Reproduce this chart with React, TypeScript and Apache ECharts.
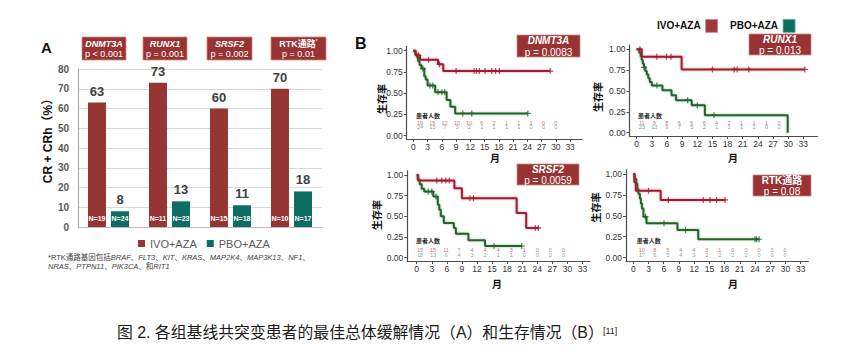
import React, { useEffect, useRef } from "react";
import * as echarts from "echarts";

// ---------- Panel A data ----------
const geneCategories = ["DNMT3A", "RUNX1", "SRSF2", "RTK通路*"];
const ivoCrRate = [63, 73, 60, 70];
const pboCrRate = [8, 13, 11, 18];
const ivoPatients = [19, 11, 15, 10];
const pboPatients = [24, 23, 18, 17];
const crPValues = ["p < 0.001", "p = 0.001", "p = 0.002", "p = 0.01"];

// ---------- Panel B data ----------
const kmTitles = ["DNMT3A", "RUNX1", "SRSF2", "RTK通路"];
const kmPValues = ["p = 0.0083", "p = 0.013", "p = 0.0059", "p = 0.08"];
const monthTicks = [0, 3, 6, 9, 12, 15, 18, 21, 24, 27, 30, 33];
const survivalTicks = [0, 0.25, 0.5, 0.75, 1];

// DNMT3A
const dnmt3aIvoCurve = [[0, 1], [0.5, 0.947], [1.4, 0.895], [5.2, 0.842], [6.3, 0.76], [28.8, 0.76]];
const dnmt3aIvoCensor = [[1.05, 0.947], [3.2, 0.895], [5.5, 0.842], [9.0, 0.76], [12.8, 0.76], [13.3, 0.76], [13.9, 0.76], [15.1, 0.76], [16.5, 0.76], [17.3, 0.76], [18.1, 0.76], [28.8, 0.76]];
const dnmt3aPboCurve = [[0, 1], [0.4, 0.958], [0.8, 0.917], [1.0, 0.875], [1.3, 0.833], [1.7, 0.79], [2.3, 0.7], [2.6, 0.66], [3.0, 0.59], [4.6, 0.51], [7.0, 0.42], [7.8, 0.34], [8.8, 0.26], [24.1, 0.26]];
const dnmt3aPboCensor = [[2.0, 0.79], [3.5, 0.59], [4.1, 0.59], [5.2, 0.51], [6.0, 0.51], [6.6, 0.51], [10.4, 0.26], [12.3, 0.26], [24.1, 0.26]];
const dnmt3aIvoAtRisk = [19, 15, 12, 10, 10, 6, 2, 1, 1, 1, 0, 0];
const dnmt3aPboAtRisk = [24, 13, 7, 3, 2, 1, 1, 1, 1, 0, 0, 0];

// RUNX1
const runx1IvoCurve = [[0, 1], [1.0, 0.909], [8.9, 0.758], [33.3, 0.758]];
const runx1IvoCensor = [[0.65, 1], [4.0, 0.909], [5.9, 0.909], [6.8, 0.909], [15.0, 0.758], [19.3, 0.758], [19.9, 0.758], [22.2, 0.758], [33.3, 0.758]];
const runx1PboCurve = [[0, 1], [0.5, 0.957], [0.8, 0.913], [1.0, 0.87], [1.2, 0.826], [1.45, 0.783], [1.7, 0.739], [2.0, 0.696], [2.3, 0.652], [2.6, 0.609], [3.0, 0.565], [5.1, 0.51], [6.9, 0.45], [7.8, 0.39], [10.9, 0.33], [13.5, 0.21], [29.9, 0]];
const runx1PboCensor = [[1.45, 0.783], [4.0, 0.565], [10.1, 0.39], [12.0, 0.33], [15.3, 0.21]];
const runx1IvoAtRisk = [11, 9, 8, 6, 6, 6, 4, 2, 1, 1, 1, 0];
const runx1PboAtRisk = [23, 13, 9, 7, 5, 2, 1, 1, 1, 1, 0, 0];

// SRSF2
const srsf2IvoCurve = [[0, 1], [0.3, 0.933], [7.5, 0.84], [9.0, 0.72], [19.9, 0.54], [21.8, 0.36], [24.3, 0.36]];
const srsf2IvoCensor = [[4.0, 0.933], [5.0, 0.933], [5.8, 0.933], [6.5, 0.933], [10.6, 0.72], [11.3, 0.72], [23.6, 0.36], [24.2, 0.36]];
const srsf2PboCurve = [[0, 1], [0.2, 0.944], [0.6, 0.889], [1.0, 0.833], [1.5, 0.8], [3.3, 0.74], [4.2, 0.64], [4.5, 0.58], [4.8, 0.5], [5.4, 0.42], [7.4, 0.36], [7.8, 0.29], [10.3, 0.21], [13.6, 0.14], [20.9, 0.14]];
const srsf2PboCensor = [[2.3, 0.8], [3.0, 0.8], [3.85, 0.74], [15.4, 0.14], [20.9, 0.14]];
const srsf2IvoAtRisk = [15, 15, 11, 7, 4, 4, 4, 3, 1, 0, 0, 0];
const srsf2PboAtRisk = [18, 13, 6, 4, 3, 2, 1, 1, 0, 0, 0, 0];

// RTK pathway
const rtkIvoCurve = [[0, 1], [0.2, 0.9], [0.5, 0.8], [5.4, 0.69], [18.1, 0.69]];
const rtkIvoCensor = [[3.0, 0.8], [6.9, 0.69], [13.8, 0.69], [15.1, 0.69], [16.4, 0.69], [18.1, 0.69]];
const rtkPboCurve = [[0, 1], [0.3, 0.941], [0.6, 0.882], [0.8, 0.824], [1.0, 0.765], [1.3, 0.706], [1.5, 0.647], [1.7, 0.588], [2.0, 0.49], [2.6, 0.41], [8.7, 0.33], [12.8, 0.22], [24.8, 0.22]];
const rtkPboCensor = [[2.4, 0.49], [6.05, 0.41], [10.3, 0.33], [24.0, 0.22], [24.3, 0.22], [24.8, 0.22]];
const rtkIvoAtRisk = [10, 8, 5, 4, 4, 3, 1, 0, 0, 0, 0, 0];
const rtkPboAtRisk = [17, 6, 5, 4, 3, 2, 2, 2, 2, 0, 0, 0];

const kmIvoCurves = [dnmt3aIvoCurve, runx1IvoCurve, srsf2IvoCurve, rtkIvoCurve];
const kmIvoCensors = [dnmt3aIvoCensor, runx1IvoCensor, srsf2IvoCensor, rtkIvoCensor];
const kmPboCurves = [dnmt3aPboCurve, runx1PboCurve, srsf2PboCurve, rtkPboCurve];
const kmPboCensors = [dnmt3aPboCensor, runx1PboCensor, srsf2PboCensor, rtkPboCensor];
const kmIvoAtRisk = [dnmt3aIvoAtRisk, runx1IvoAtRisk, srsf2IvoAtRisk, rtkIvoAtRisk];
const kmPboAtRisk = [dnmt3aPboAtRisk, runx1PboAtRisk, srsf2PboAtRisk, rtkPboAtRisk];

// ---------- styling / layout ----------
const FONT = "'Liberation Sans', Arial, 'Noto Sans CJK SC', sans-serif";
const RED_BAR = "#963634";
const TEAL_BAR = "#0e6d63";
const BOX_RED = "#993333";
const KM_RED = "#a01b2f";
const KM_GREEN = "#22652a";
const RISK_RED = "#b84a4a";
const RISK_TEAL = "#3b9488";
const PLUS = "path://M4,0H6V4H10V6H6V10H4V6H0V4H4Z";

const A_BOXES = [
  [82, 37, 44, 23],
  [143, 37, 44, 23],
  [207, 37, 45, 23],
  [271, 37, 55, 23],
];

const KM_LAYOUT = [
  { left: 406.7, top: 46.5, width: 175.3, height: 92.4, xMin: -1.4, xMax: 35.5, tLeft: 413.8, tWidth: 148.2, tTop: 120.1, rX: 416, rY: 115.7, yTX: 382, yTY: 99, mX: 495, mY: 158, box: [517, 35, 63, 22] },
  { left: 629.6, top: 45.1, width: 187.9, height: 90.9, xMin: -1.4, xMax: 35.8, tLeft: 635.5, tWidth: 149.8, tTop: 120.1, rX: 638, rY: 115.7, yTX: 598, yTY: 97, mX: 733, mY: 158, box: [749, 34, 62, 21] },
  { left: 407.3, top: 170.9, width: 182.7, height: 90.1, xMin: -1.87, xMax: 34.5, tLeft: 413.5, tWidth: 156.3, tTop: 247.9, rX: 416, rY: 240.7, yTX: 377.5, yTY: 215, mX: 497, mY: 284, box: [517, 164, 62, 21] },
  { left: 626, top: 169.8, width: 182.3, height: 91.2, xMin: -1.44, xMax: 34.5, tLeft: 635.2, tWidth: 156.3, tTop: 247.9, rX: 636.7, rY: 240.7, yTX: 596, yTY: 207.5, mX: 733, mY: 284, box: [753, 175, 58, 21] },
];

function labelBox(x: number, y: number, w: number, h: number, title: string, p: string, italic: boolean, fs: number) {
  const star = title.endsWith("*");
  const t = star ? title.slice(0, -1) : title;
  return {
    type: "group",
    children: [
      { type: "rect", shape: { x, y, width: w, height: h }, style: { fill: BOX_RED, stroke: "#c98a8a", lineWidth: 0.8 } },
      {
        type: "text",
        x: x + w / 2,
        y: y + h / 2 + 0.5,
        style: {
          text: `{g|${t}}${star ? "{s|*}" : ""}\n{p|${p}}`,
          align: "center",
          verticalAlign: "middle",
          rich: {
            g: { fontFamily: FONT, fontSize: fs, fontWeight: "bold", fontStyle: italic ? "italic" : "normal", fill: "#fff", lineHeight: fs + 1.5 },
            s: { fontFamily: FONT, fontSize: fs - 4, fill: "#fff", lineHeight: fs + 1.5, verticalAlign: "top" },
            p: { fontFamily: FONT, fontSize: fs, fill: "#fff", lineHeight: fs + 1.5 },
          },
        },
      },
    ],
  };
}

function buildOption() {
  const grid: any[] = [];
  const xAxis: any[] = [];
  const yAxis: any[] = [];
  const series: any[] = [];
  const graphic: any[] = [];

  // ----- Panel A -----
  grid.push({ left: 78, top: 69, width: 244, height: 158 });
  xAxis.push({
    type: "category",
    gridIndex: 0,
    data: geneCategories,
    axisLine: { lineStyle: { color: "#bfbfbf", width: 1 } },
    axisTick: { show: false },
    axisLabel: { show: false },
  });
  yAxis.push({
    type: "value",
    gridIndex: 0,
    min: 0,
    max: 80,
    interval: 10,
    axisLine: { show: true, lineStyle: { color: "#a6a6a6" } },
    axisTick: { show: false },
    splitLine: { lineStyle: { color: "#d9d9d9" } },
    axisLabel: { fontFamily: FONT, fontSize: 10, fontWeight: "bold", color: "#595959", margin: 9 },
  });
  const nLabel = (arr: number[]) => ({
    show: true,
    position: "insideBottom",
    distance: 5,
    formatter: (p: any) => "N=" + arr[p.dataIndex],
    color: "#fff",
    fontFamily: FONT,
    fontSize: 7,
    fontWeight: "bold",
  });
  const topLabel = (arr: number[]) => ({
    show: true,
    position: "top",
    distance: 5,
    formatter: (p: any) => String(arr[p.dataIndex]),
    color: "#404040",
    fontFamily: FONT,
    fontSize: 13,
    fontWeight: "bold",
  });
  series.push(
    { name: "IVO+AZA", type: "bar", xAxisIndex: 0, yAxisIndex: 0, stack: "ivo", data: ivoCrRate, barWidth: 18, barGap: "28%", itemStyle: { color: RED_BAR }, label: nLabel(ivoPatients) },
    { name: "ivoTop", type: "bar", xAxisIndex: 0, yAxisIndex: 0, stack: "ivo", data: ivoCrRate.map(() => 0), barWidth: 18, barGap: "28%", itemStyle: { color: RED_BAR }, label: topLabel(ivoCrRate) },
    { name: "PBO+AZA", type: "bar", xAxisIndex: 0, yAxisIndex: 0, stack: "pbo", data: pboCrRate, barWidth: 18, barGap: "28%", itemStyle: { color: TEAL_BAR }, label: nLabel(pboPatients) },
    { name: "pboTop", type: "bar", xAxisIndex: 0, yAxisIndex: 0, stack: "pbo", data: pboCrRate.map(() => 0), barWidth: 18, barGap: "28%", itemStyle: { color: TEAL_BAR }, label: topLabel(pboCrRate) }
  );
  A_BOXES.forEach((b, i) => {
    const isRtk = geneCategories[i].startsWith("RTK");
    graphic.push(labelBox(b[0], b[1], b[2], b[3], geneCategories[i], crPValues[i], !isRtk, 9));
  });
  graphic.push({ type: "text", x: 41, y: 47, style: { text: "A", fontFamily: FONT, fontSize: 15, fontWeight: "bold", fill: "#111", verticalAlign: "middle" } });
  graphic.push({
    type: "text",
    x: 48,
    y: 138,
    rotation: Math.PI / 2,
    style: { text: "CR + CRh（%）", fontFamily: FONT, fontSize: 12, fontWeight: "bold", fill: "#111", align: "center", verticalAlign: "middle" },
  });
  const genes = ["BRAF", "FLT3", "KIT", "KRAS", "MAP2K4", "MAP3K13", "NF1"];
  const genes2 = ["NRAS", "PTPN11", "PIK3CA"];
  const fnRich = {
    n: { fontFamily: FONT, fontSize: 7.5, fill: "#404040" },
    i: { fontFamily: FONT, fontSize: 7.5, fill: "#404040", fontStyle: "italic" },
  };
  graphic.push({
    type: "text",
    x: 48,
    y: 257,
    style: { text: "{n|*RTK通路基因包括}" + genes.map((g) => `{i|${g}}{n|、}`).join(""), rich: fnRich, verticalAlign: "middle" },
  });
  graphic.push({
    type: "text",
    x: 48,
    y: 266.5,
    style: { text: genes2.map((g) => `{i|${g}}{n|、}`).join("") + "{n|和}{i|RIT1}", rich: fnRich, verticalAlign: "middle" },
  });

  // ----- Panel B -----
  graphic.push({ type: "text", x: 355, y: 43, style: { text: "B", fontFamily: FONT, fontSize: 16, fontWeight: "bold", fill: "#111", verticalAlign: "middle" } });

  KM_LAYOUT.forEach((L, i) => {
    const gi = grid.length;
    grid.push({ left: L.left, top: L.top, width: L.width, height: L.height });
    xAxis.push({
      type: "value",
      gridIndex: gi,
      min: L.xMin,
      max: L.xMax,
      axisLine: { show: true, onZero: false, lineStyle: { color: "#4d4d4d", width: 1.2 } },
      axisTick: { show: true, customValues: monthTicks, length: 3, lineStyle: { color: "#4d4d4d" } },
      axisLabel: { customValues: monthTicks, fontFamily: FONT, fontSize: 8.5, color: "#333", margin: 4 },
      splitLine: { show: false },
    });
    yAxis.push({
      type: "value",
      gridIndex: gi,
      min: -0.04,
      max: 1.05,
      axisLine: { show: true, onZero: false, lineStyle: { color: "#4d4d4d", width: 1.2 } },
      axisTick: { show: true, customValues: survivalTicks, length: 3, lineStyle: { color: "#4d4d4d" } },
      axisLabel: { customValues: survivalTicks, formatter: (v: number) => v.toFixed(2), fontFamily: FONT, fontSize: 8.5, color: "#333", margin: 4 },
      splitLine: { show: false },
    });
    const mk = (name: string, curve: number[][], censor: number[][], color: string, halo: string) => {
      series.push({
        name: name,
        type: "line",
        xAxisIndex: gi,
        yAxisIndex: gi,
        data: curve,
        step: "end",
        symbol: "none",
        lineStyle: { color, width: 2, shadowColor: halo, shadowBlur: 2 },
        z: 3,
      });
      series.push({
        name: name + " censor",
        type: "scatter",
        xAxisIndex: gi,
        yAxisIndex: gi,
        data: censor,
        symbol: PLUS,
        symbolSize: 6,
        itemStyle: { color },
        z: 4,
      });
    };
    mk(kmTitles[i] + " PBO+AZA", kmPboCurves[i], kmPboCensors[i], KM_GREEN, "rgba(60,140,70,0.5)");
    mk(kmTitles[i] + " IVO+AZA", kmIvoCurves[i], kmIvoCensors[i], KM_RED, "rgba(190,60,80,0.5)");

    // risk table
    const ti = grid.length;
    grid.push({ left: L.tLeft, top: L.tTop, width: L.tWidth, height: 9.6 });
    xAxis.push({ type: "category", gridIndex: ti, data: monthTicks.map(String), show: false });
    yAxis.push({ type: "category", gridIndex: ti, data: ["IVO+AZA", "PBO+AZA"], inverse: true, show: false });
    const riskSeries = (vals: number[], row: number, color: string, nm: string) => ({
      name: nm,
      type: "scatter",
      xAxisIndex: ti,
      yAxisIndex: ti,
      data: vals.map((v, j) => [j, row, v]),
      symbolSize: 1,
      itemStyle: { color: "rgba(0,0,0,0)" },
      label: { show: true, position: "top", distance: -3.4, formatter: (p: any) => String(p.value[2]), color, fontFamily: FONT, fontSize: 5.5 },
      labelLayout: { hideOverlap: false },
      z: 5,
    });
    series.push(riskSeries(kmIvoAtRisk[i], 0, RISK_RED, kmTitles[i] + " IVO at risk"));
    series.push(riskSeries(kmPboAtRisk[i], 1, RISK_TEAL, kmTitles[i] + " PBO at risk"));

    graphic.push({ type: "text", x: L.rX, y: L.rY, style: { text: "患者人数", fontFamily: FONT, fontSize: 6, fontWeight: "bold", fill: "#222", verticalAlign: "middle" } });
    graphic.push({
      type: "text",
      x: L.yTX,
      y: L.yTY,
      rotation: Math.PI / 2,
      style: { text: "生存率", fontFamily: FONT, fontSize: 10, fontWeight: "bold", fill: "#111", align: "center", verticalAlign: "middle" },
    });
    graphic.push({ type: "text", x: L.mX, y: L.mY, style: { text: "月", fontFamily: FONT, fontSize: 10, fontWeight: "bold", fill: "#111", align: "center", verticalAlign: "middle" } });
    graphic.push(labelBox(L.box[0], L.box[1], L.box[2], L.box[3], kmTitles[i], kmPValues[i], !kmTitles[i].startsWith("RTK"), 10));
  });

  // caption
  graphic.push({
    type: "text",
    x: 117,
    y: 332,
    style: { text: "图 2. 各组基线共突变患者的最佳总体缓解情况（A）和生存情况（B）", fontFamily: FONT, fontSize: 15.85, fill: "#1a1a1a", verticalAlign: "middle" },
  });
  graphic.push({ type: "text", x: 603, y: 326, style: { text: "[11]", fontFamily: FONT, fontSize: 9, fill: "#1a1a1a", verticalAlign: "top" } });

  return {
    animation: false,
    backgroundColor: "#ffffff",
    grid,
    xAxis,
    yAxis,
    series,
    graphic,
    legend: [
      {
        left: 133,
        top: 233,
        icon: "rect",
        itemWidth: 7,
        itemHeight: 7,
        itemGap: 10,
        selectedMode: false,
        data: ["IVO+AZA", "PBO+AZA"],
        textStyle: { fontFamily: FONT, fontSize: 11, color: "#595959" },
      },
      {
        left: 652,
        top: 14,
        align: "right",
        icon: "rect",
        itemWidth: 12,
        itemHeight: 13,
        itemGap: 12,
        selectedMode: false,
        data: [
          { name: "IVO+AZA", itemStyle: { color: "#9b3a3a", borderColor: "#c98a8a", borderWidth: 0.8 } },
          { name: "PBO+AZA", itemStyle: { color: "#0b6e63", borderColor: "#6aa9a0", borderWidth: 0.8 } },
        ],
        textStyle: { fontFamily: FONT, fontSize: 10, fontWeight: "bold", color: "#111" },
      },
    ],
  };
}

export default function App() {
  const ref = useRef<HTMLDivElement>(null);
  useEffect(() => {
    if (!ref.current) return;
    const chart = echarts.init(ref.current, undefined, { renderer: "svg" });
    chart.setOption(buildOption() as any);
    return () => chart.dispose();
  }, []);
  return <div ref={ref} style={{ position: "fixed", left: 0, top: 0, width: 850, height: 352, background: "#fff" }} />;
}
